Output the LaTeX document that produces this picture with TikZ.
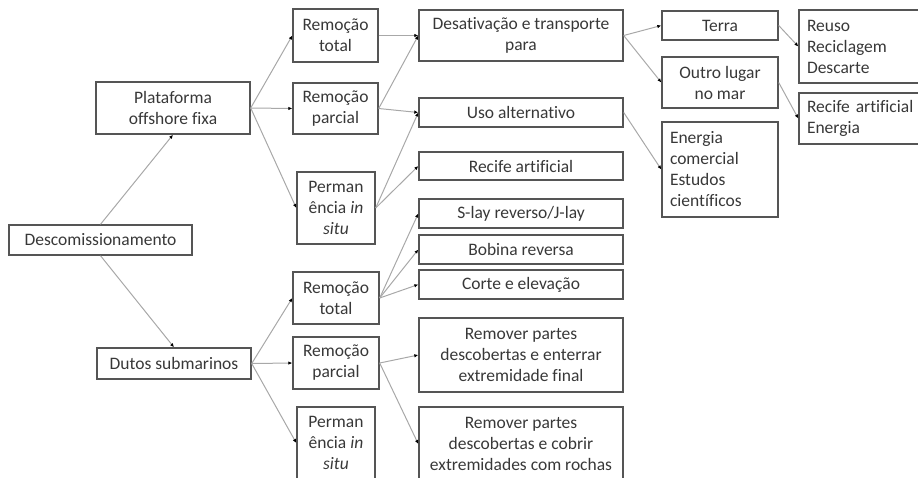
\documentclass[tikz,border=0pt]{standalone}
\usepackage{fontspec}
\setmainfont{Carlito}[Ligatures={NoCommon}]
\usetikzlibrary{arrows.meta}
\definecolor{boxline}{HTML}{555555}
\definecolor{linkline}{HTML}{A8A8A8}
\definecolor{txtgray}{HTML}{383838}

\begin{document}
\begin{tikzpicture}[x=1pt,y=-1pt,
    box/.style={draw=boxline, line width=1.4pt, text=txtgray, align=center, inner sep=0pt,
        font=\fontsize{17.5}{21}\selectfont},
    lbox/.style={box, align=left, inner xsep=8pt},
    link/.style={draw=linkline, line width=1pt, -{Latex[length=4pt,width=3.5pt,black]}}]
    \useasboundingbox (0,0) rectangle (918,477);

    % Root and first level
    \node[box, minimum width=183pt, minimum height=30pt] (desc) at (100.5,240) {Descomissionamento};
    \node[box, minimum width=154pt, minimum height=52pt] (plat) at (173,108) {Plataforma\\offshore fixa};
    \node[box, minimum width=154pt, minimum height=31pt] (dutos) at (174,363.5) {Dutos submarinos};

    % Options for the platform
    \node[box, minimum width=85pt, minimum height=53pt] (rtA) at (335.5,35.5) {Remoção\\total};
    \node[box, minimum width=85pt, minimum height=51pt] (rpA) at (335.5,108.5) {Remoção\\parcial};
    \node[box, minimum width=78pt, minimum height=72pt] (piA) at (336,208) {Perman\\ência \textit{in}\\\textit{situ}};

    % Options for the pipelines
    \node[box, minimum width=86pt, minimum height=52pt] (rtB) at (336,298) {Remoção\\total};
    \node[box, minimum width=86pt, minimum height=52pt] (rpB) at (336,363) {Remoção\\parcial};
    \node[box, minimum width=78pt, minimum height=72pt] (piB) at (336,443) {Perman\\ência \textit{in}\\\textit{situ}};

    % Third column
    \node[box, minimum width=204pt, minimum height=51pt] (desat) at (521,35.5) {Desativação e transporte\\para};
    \node[box, minimum width=204pt, minimum height=29pt] (uso) at (521,112.5) {Uso alternativo};
    \node[box, minimum width=204pt, minimum height=28pt] (recA) at (521,166) {Recife artificial};
    \node[box, minimum width=204pt, minimum height=29pt] (slay) at (521,213.5) {S-lay reverso/J-lay};
    \node[box, minimum width=204pt, minimum height=29pt] (bob) at (521,249.5) {Bobina reversa};
    \node[box, minimum width=204pt, minimum height=29pt] (corte) at (521,284.5) {Corte e elevação};
    \node[box, minimum width=204pt, minimum height=74pt] (remE) at (521,355) {Remover partes\\descobertas e enterrar\\extremidade final};
    \node[box, minimum width=204pt, minimum height=74pt] (remR) at (521,444) {Remover partes\\descobertas e cobrir\\extremidades com rochas};

    % Fourth column
    \node[box, minimum width=116pt, minimum height=29pt] (terra) at (720,25.5) {Terra};
    \node[box, minimum width=116pt, minimum height=51pt] (outro) at (720,82.5) {Outro lugar\\no mar};
    \node[lbox, text width=100pt, minimum height=95pt] (energ) at (720,169.5) {Energia\\comercial\\Estudos\\científicos};

    % Last column
    \node[lbox, text width=115pt, minimum height=73pt] (reuso) at (864.5,46.5) {Reuso\\Reciclagem\\Descarte};
    \node[lbox, text width=115pt, minimum height=51pt] (recE) at (864.5,118.5) {Recife artificial\\Energia};

    % Connectors
    \draw[link] (desc.north) -- (plat.south);
    \draw[link] (desc.south) -- (dutos.north);
    \draw[link] (plat.east) -- (rtA.west);
    \draw[link] (plat.east) -- (rpA.west);
    \draw[link] (plat.east) -- (piA.west);
    \draw[link] (dutos.east) -- (rtB.west);
    \draw[link] (dutos.east) -- (rpB.west);
    \draw[link] (dutos.east) -- (piB.west);
    \draw[link] (rtA.east) -- (desat.west);
    \draw[link] (rpA.east) -- (desat.west);
    \draw[link] (rpA.east) -- (uso.west);
    \draw[link] (piA.east) -- (uso.west);
    \draw[link] (piA.east) -- (recA.west);
    \draw[link] (rtB.east) -- (slay.west);
    \draw[link] (rtB.east) -- (bob.west);
    \draw[link] (rtB.east) -- (corte.west);
    \draw[link] (rpB.east) -- (remE.west);
    \draw[link] (rpB.east) -- (remR.west);
    \draw[link] (desat.east) -- (terra.west);
    \draw[link] (desat.east) -- (outro.west);
    \draw[link] (uso.east) -- (energ.west);
    \draw[link] (terra.east) -- (reuso.west);
    \draw[link] (outro.east) -- (recE.west);
\end{tikzpicture}
\end{document}
